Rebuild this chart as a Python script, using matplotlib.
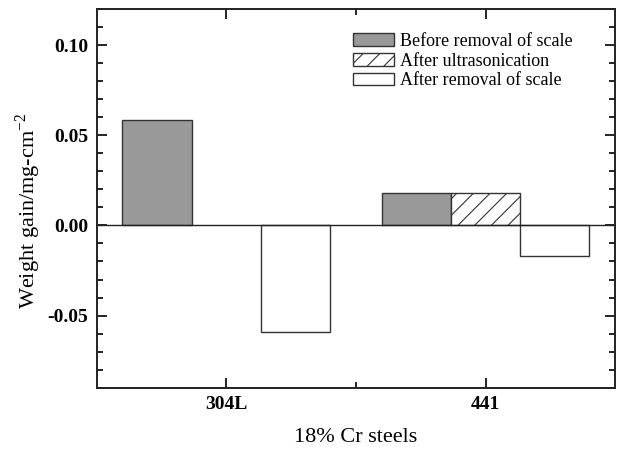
import matplotlib
matplotlib.use("Agg")
import matplotlib.pyplot as plt
from matplotlib.patches import Patch
from matplotlib.ticker import MultipleLocator, FixedLocator
import numpy as np

plt.rcParams['font.family'] = ['Liberation Serif', 'DejaVu Serif']
plt.rcParams['hatch.linewidth'] = 0.8

steels = ["304L", "441"]
series = ["Before removal of scale", "After ultrasonication", "After removal of scale"]
before_removal = [0.0587, 0.0179]
after_ultrasonication = [0.0, 0.0179]
after_removal = [-0.0591, -0.0172]

values = [before_removal, after_ultrasonication, after_removal]
faces = ["#999999", "white", "white"]
hatches = [None, "//", None]

fig = plt.figure(figsize=(6.17, 4.49), dpi=100)
ax = fig.add_axes([0.1567, 0.1365, 0.8403, 0.8435])

x = np.arange(1, len(steels) + 1)
width = 0.267
edge = "#333333"
for i, (vals, fc, h) in enumerate(zip(values, faces, hatches)):
    offs = (i - 1) * width
    for xi, v in zip(x, vals):
        if v == 0:
            continue
        ax.bar(xi + offs, v, width=width, color=fc, edgecolor=edge,
               linewidth=1.0, hatch=h, zorder=2)

ax.axhline(0, color="#222222", linewidth=1.0, zorder=3)

ax.set_xlim(0.5, 2.5)
ax.set_ylim(-0.09, 0.12)
ax.xaxis.set_major_locator(FixedLocator(x))
ax.xaxis.set_minor_locator(FixedLocator([1.5]))
ax.set_xticklabels(steels, fontsize=14, fontweight="bold")
ax.yaxis.set_major_locator(FixedLocator([-0.05, 0.0, 0.05, 0.10]))
ax.yaxis.set_minor_locator(MultipleLocator(0.01))
ax.set_yticklabels(["-0.05", "0.00", "0.05", "0.10"], fontsize=14, fontweight="bold")

ax.tick_params(which="both", direction="in", top=True, right=True, width=1.2)
ax.tick_params(which="major", length=7, pad=6)
ax.tick_params(which="minor", length=4)
for s in ax.spines.values():
    s.set_linewidth(1.4)
    s.set_color("#222222")

ax.set_xlabel("18% Cr steels", fontsize=16, labelpad=11)
ax.set_ylabel(r"Weight gain/mg-cm$^{\mathregular{-2}}$", fontsize=16)
ax.yaxis.set_label_coords(-0.103, 0.466)

handles = [Patch(facecolor=fc, edgecolor=edge, linewidth=1.0, hatch=h)
           for fc, h in zip(faces, hatches)]
ax.legend(handles, series, loc="upper left", bbox_to_anchor=(0.494, 0.937),
          frameon=False, fontsize=13, handlelength=2.3, handleheight=0.7,
          handletextpad=0.3, labelspacing=0.15, borderaxespad=0, borderpad=0)

fig.savefig("out.png", dpi=100)
